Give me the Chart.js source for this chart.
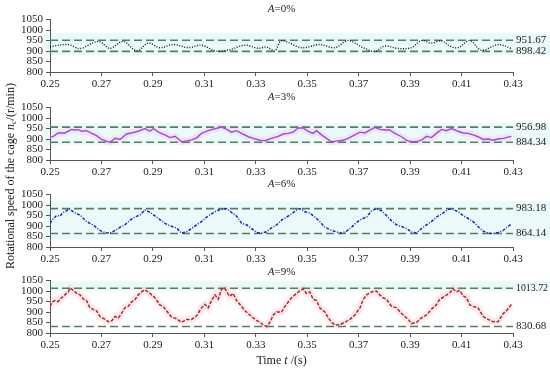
<!DOCTYPE html>
<html><head><meta charset="utf-8">
<script src="https://cdn.jsdelivr.net/npm/chart.js@4.4.1/dist/chart.umd.min.js"></script>
<style>
html,body{margin:0;padding:0;background:#fff;}
#wrap{position:relative;width:550px;height:370px;overflow:hidden;font-family:'Liberation Serif','Times New Roman',serif;color:#1a1a1a;}
#wrap canvas{position:absolute;left:0;}
.ttl{position:absolute;left:50px;width:463px;text-align:center;font-size:11px;line-height:12px;z-index:5;}
.ytitle{position:absolute;width:230px;height:14px;line-height:14px;font-size:12px;text-align:center;transform:rotate(-90deg);white-space:nowrap;z-index:5;}
.xtitle{position:absolute;left:50px;width:463px;text-align:center;font-size:12px;line-height:14px;z-index:5;}
sub{font-size:8px;vertical-align:-2px;line-height:0;}
</style></head>
<body><div id="wrap"></div>
<script>
// ---------------- data ----------------
const loadRatios = ['0%', '3%', '6%', '9%'];
const xTicks = [0.25, 0.27, 0.29, 0.31, 0.33, 0.35, 0.37, 0.39, 0.41, 0.43];
const yTicks = [800, 850, 900, 950, 1000, 1050];
const yTitleText = 'Rotational speed of the cage ';
const xTitleText = 'Time ';

// A = 0%
const t0 = [0.2500,0.2571,0.2617,0.2688,0.2733,0.2785,0.2837,0.2882,0.2927,0.2979,0.3038,0.3089,0.3141,0.3193,0.3258,0.3310,0.3342,0.3374,0.3400,0.3478,0.3549,0.3608,0.3659,0.3718,0.3763,0.3802,0.3854,0.3905,0.3944,0.3983,0.4022,0.4054,0.4087,0.4132,0.4177,0.4242,0.4294];
const v0 = [921,931,912,946,913,946,901,938,916,931,916,928,901,904,928,913,919,901,949,916,931,916,950,916,898,924,912,916,950,938,949,924,916,950,904,931,912];

// A = 3%
const t1 = [0.2500,0.2513,0.2532,0.2558,0.2584,0.2597,0.2610,0.2623,0.2642,0.2662,0.2681,0.2701,0.2720,0.2733,0.2753,0.2772,0.2798,0.2824,0.2843,0.2869,0.2889,0.2902,0.2927,0.2947,0.2966,0.2986,0.3012,0.3031,0.3051,0.3070,0.3089,0.3115,0.3141,0.3167,0.3187,0.3206,0.3225,0.3245,0.3271,0.3290,0.3316,0.3335,0.3361,0.3387,0.3407,0.3426,0.3445,0.3465,0.3484,0.3504,0.3523,0.3536,0.3556,0.3575,0.3595,0.3614,0.3640,0.3659,0.3685,0.3705,0.3724,0.3743,0.3763,0.3782,0.3802,0.3821,0.3841,0.3867,0.3886,0.3905,0.3925,0.3944,0.3964,0.3983,0.4002,0.4022,0.4041,0.4061,0.4087,0.4106,0.4126,0.4145,0.4164,0.4184,0.4203,0.4223,0.4242,0.4262,0.4281,0.4294];
const v1 = [909,913,929,929,946,943,945,937,940,927,916,898,890,884,904,898,924,931,937,950,937,950,929,920,907,913,887,891,896,906,927,940,949,957,946,933,940,927,911,903,894,892,903,913,924,927,933,953,953,937,927,940,920,903,887,890,894,903,920,933,929,943,956,946,943,943,927,911,894,887,888,895,913,907,927,946,940,950,937,929,927,920,911,898,900,894,900,903,909,913];

// A = 6%
const t2 = [0.2500,0.2513,0.2526,0.2539,0.2552,0.2565,0.2574,0.2591,0.2604,0.2617,0.2630,0.2642,0.2655,0.2675,0.2694,0.2714,0.2733,0.2753,0.2772,0.2791,0.2811,0.2830,0.2850,0.2869,0.2889,0.2908,0.2927,0.2947,0.2966,0.2992,0.3012,0.3031,0.3051,0.3070,0.3089,0.3109,0.3128,0.3148,0.3167,0.3187,0.3206,0.3225,0.3245,0.3264,0.3284,0.3303,0.3323,0.3342,0.3361,0.3381,0.3400,0.3420,0.3439,0.3459,0.3472,0.3491,0.3510,0.3530,0.3549,0.3569,0.3595,0.3614,0.3634,0.3653,0.3672,0.3692,0.3711,0.3731,0.3750,0.3769,0.3789,0.3808,0.3828,0.3847,0.3867,0.3886,0.3905,0.3925,0.3944,0.3964,0.3983,0.4002,0.4028,0.4048,0.4067,0.4087,0.4106,0.4126,0.4145,0.4164,0.4184,0.4203,0.4223,0.4242,0.4262,0.4281,0.4294];
const v2 = [913,936,950,948,965,973,983,968,958,953,936,921,913,898,879,869,866,879,894,906,928,943,953,977,965,948,931,913,901,891,866,873,888,906,921,943,958,973,980,983,965,948,913,906,888,869,866,873,891,906,928,943,958,977,983,968,962,943,921,894,879,872,866,876,894,918,933,943,973,983,973,950,924,906,898,888,872,867,888,906,921,943,962,980,980,968,950,936,921,898,876,866,864,869,879,898,909];

// A = 9%
const t3 = [0.2500,0.2509,0.2519,0.2532,0.2545,0.2558,0.2571,0.2578,0.2591,0.2604,0.2617,0.2630,0.2642,0.2655,0.2668,0.2681,0.2694,0.2714,0.2727,0.2740,0.2753,0.2766,0.2778,0.2791,0.2804,0.2817,0.2830,0.2843,0.2856,0.2869,0.2882,0.2895,0.2908,0.2927,0.2940,0.2953,0.2973,0.2992,0.3012,0.3031,0.3051,0.3070,0.3089,0.3102,0.3115,0.3128,0.3141,0.3154,0.3167,0.3180,0.3187,0.3199,0.3212,0.3225,0.3245,0.3258,0.3277,0.3297,0.3316,0.3329,0.3342,0.3355,0.3368,0.3381,0.3400,0.3413,0.3426,0.3439,0.3452,0.3472,0.3484,0.3497,0.3510,0.3523,0.3536,0.3549,0.3569,0.3582,0.3595,0.3608,0.3627,0.3646,0.3666,0.3685,0.3705,0.3718,0.3731,0.3750,0.3769,0.3782,0.3795,0.3808,0.3828,0.3847,0.3867,0.3880,0.3892,0.3905,0.3925,0.3944,0.3964,0.3983,0.4002,0.4015,0.4035,0.4054,0.4067,0.4080,0.4093,0.4106,0.4119,0.4132,0.4145,0.4164,0.4184,0.4203,0.4223,0.4242,0.4262,0.4275,0.4288,0.4294];
const v3 = [927,948,955,950,968,982,996,1014,1003,989,982,961,955,920,913,906,879,865,854,858,879,872,893,920,927,948,959,982,996,1006,996,982,968,934,927,906,876,868,851,865,865,882,920,937,920,955,982,961,1010,1014,996,975,989,955,927,906,886,865,851,838,831,851,886,900,900,927,948,968,982,1003,1010,989,996,961,955,920,900,872,851,838,840,851,865,886,920,961,982,996,1000,982,968,961,927,920,893,879,865,845,851,872,886,913,934,961,975,992,1010,996,1003,978,968,934,927,920,879,865,854,854,893,906,927,937];

// reference (dashed) levels per panel
const refHi = [951.67, 956.98, 983.18, 1013.72];
const refLo = [898.42, 884.34, 864.14, 830.68];

// faint background bands seen in the figure
const bandHi = [985, 975, 1018, 1046];
const bandLo = [880, 870, 835, 1005];

// ---------------- layout & style ----------------
const FONT = "'Liberation Serif','Times New Roman',serif";
const plotTops = [18, 106, 193, 279];
const titleCenters = [8, 96, 183, 271];
const PLOT_H = 54, PAD_TOP = 8, XAXIS_H = 22, YAXIS_W = 50, PAD_RIGHT = 37;
const AXIS_COLOR = '#555';
const REF_COLOR = '#55805c';
const styles = [
  {color:'#111111', width:1.4, dash:[1,1.6], tension:0.35, halo:null},
  {color:'#a046e6', width:1.4, dash:[], tension:0, halo:'rgba(255,170,215,0.25)'},
  {color:'#1f1fc8', width:1.5, dash:[3,1.5,1,1.5], tension:0, halo:null},
  {color:'#a8301e', width:1.5, dash:[3.5,1.5], tension:0, halo:'rgba(255,170,200,0.25)'}
];
const times = [t0, t1, t2, t3];
const speeds = [v0, v1, v2, v3];

const wrap = document.getElementById('wrap');

const bandPlugin = {
  id: 'band',
  beforeDraw(chart, args, o) {
    const {ctx, chartArea: a, scales: {y}} = chart;
    const top = y.getPixelForValue(o.hi), bot = y.getPixelForValue(o.lo);
    ctx.save();
    ctx.fillStyle = '#eafafa';
    ctx.fillRect(a.left - 6, top, chart.width - (a.left - 6), bot - top);
    ctx.restore();
  }
};
const refLabelPlugin = {
  id: 'refLabels',
  afterDatasetsDraw(chart, args, o) {
    const {ctx, chartArea: a, scales: {y}} = chart;
    ctx.save();
    ctx.font = '11px ' + FONT;
    ctx.fillStyle = '#1a1a1a';
    ctx.textAlign = 'left';
    ctx.textBaseline = 'middle';
    const x = a.right + 3;
    for (const val of o.values) ctx.fillText(val.toFixed(2), x, y.getPixelForValue(val), chart.width - x - 2);
    ctx.restore();
  }
};

function axisCommon() {
  return {
    grid: {drawOnChartArea: false, drawTicks: true, tickLength: 4, color: AXIS_COLOR, lineWidth: 1},
    border: {display: true, color: AXIS_COLOR, width: 1}
  };
}

for (let i = 0; i < 4; i++) {
  const ttl = document.createElement('div');
  ttl.className = 'ttl';
  ttl.style.top = (titleCenters[i] - 6) + 'px';
  ttl.innerHTML = '<i>A</i>=' + loadRatios[i];
  wrap.appendChild(ttl);

  const canvas = document.createElement('canvas');
  canvas.width = 550;
  canvas.height = PAD_TOP + PLOT_H + XAXIS_H;
  canvas.style.top = (plotTops[i] - PAD_TOP) + 'px';
  canvas.style.width = '550px';
  canvas.style.height = canvas.height + 'px';
  wrap.appendChild(canvas);

  const st = styles[i];
  const pts = times[i].map((x, k) => ({x, y: speeds[i][k]}));
  const x0 = xTicks[0], x1 = xTicks[xTicks.length - 1];
  const datasets = [
    {data: pts, borderColor: st.color, borderWidth: st.width, borderDash: st.dash, tension: st.tension, pointRadius: 0, fill: false},
    {data: [{x: x0, y: refHi[i]}, {x: x1, y: refHi[i]}], borderColor: REF_COLOR, borderWidth: 1.6, borderDash: [8, 4], pointRadius: 0, fill: false},
    {data: [{x: x0, y: refLo[i]}, {x: x1, y: refLo[i]}], borderColor: REF_COLOR, borderWidth: 1.6, borderDash: [8, 4], pointRadius: 0, fill: false}
  ];
  if (st.halo) datasets.push({data: pts, borderColor: st.halo, borderWidth: 7, tension: 0, pointRadius: 0, fill: false});

  const xs = axisCommon(), ys = axisCommon();
  new Chart(canvas, {
    type: 'line',
    data: {datasets},
    plugins: [bandPlugin, refLabelPlugin],
    options: {
      responsive: false, animation: false, devicePixelRatio: 1,
      layout: {padding: {top: PAD_TOP, right: PAD_RIGHT, left: 0, bottom: 0}},
      plugins: {
        legend: {display: false}, tooltip: {enabled: false},
        refLabels: {values: [refHi[i], refLo[i]]},
        band: {hi: bandHi[i], lo: bandLo[i]}
      },
      scales: {
        x: Object.assign(xs, {
          type: 'linear', min: x0, max: x1,
          afterBuildTicks: s => { s.ticks = xTicks.map(v => ({value: v})); },
          afterFit: s => { s.height = XAXIS_H; },
          ticks: {callback: v => Number(v).toFixed(2), font: {family: FONT, size: 11}, color: '#1a1a1a', padding: 2, maxRotation: 0, autoSkip: false}
        }),
        y: Object.assign(ys, {
          type: 'linear', min: yTicks[0], max: yTicks[yTicks.length - 1],
          afterBuildTicks: s => { s.ticks = yTicks.map(v => ({value: v})); },
          afterFit: s => { s.width = YAXIS_W; },
          ticks: {callback: v => String(v), font: {family: FONT, size: 11}, color: '#1a1a1a', padding: 3, autoSkip: false}
        })
      }
    }
  });
}

const yt = document.createElement('div');
yt.className = 'ytitle';
yt.style.left = (10 - 115) + 'px';
yt.style.top = (176 - 7) + 'px';
yt.innerHTML = yTitleText + '<i>n</i><sub><i>c</i></sub>/(r/min)';
wrap.appendChild(yt);

const xt = document.createElement('div');
xt.className = 'xtitle';
xt.style.top = (360 - 7) + 'px';
xt.innerHTML = xTitleText + '<i>t</i> /(s)';
wrap.appendChild(xt);
</script>
</body></html>
